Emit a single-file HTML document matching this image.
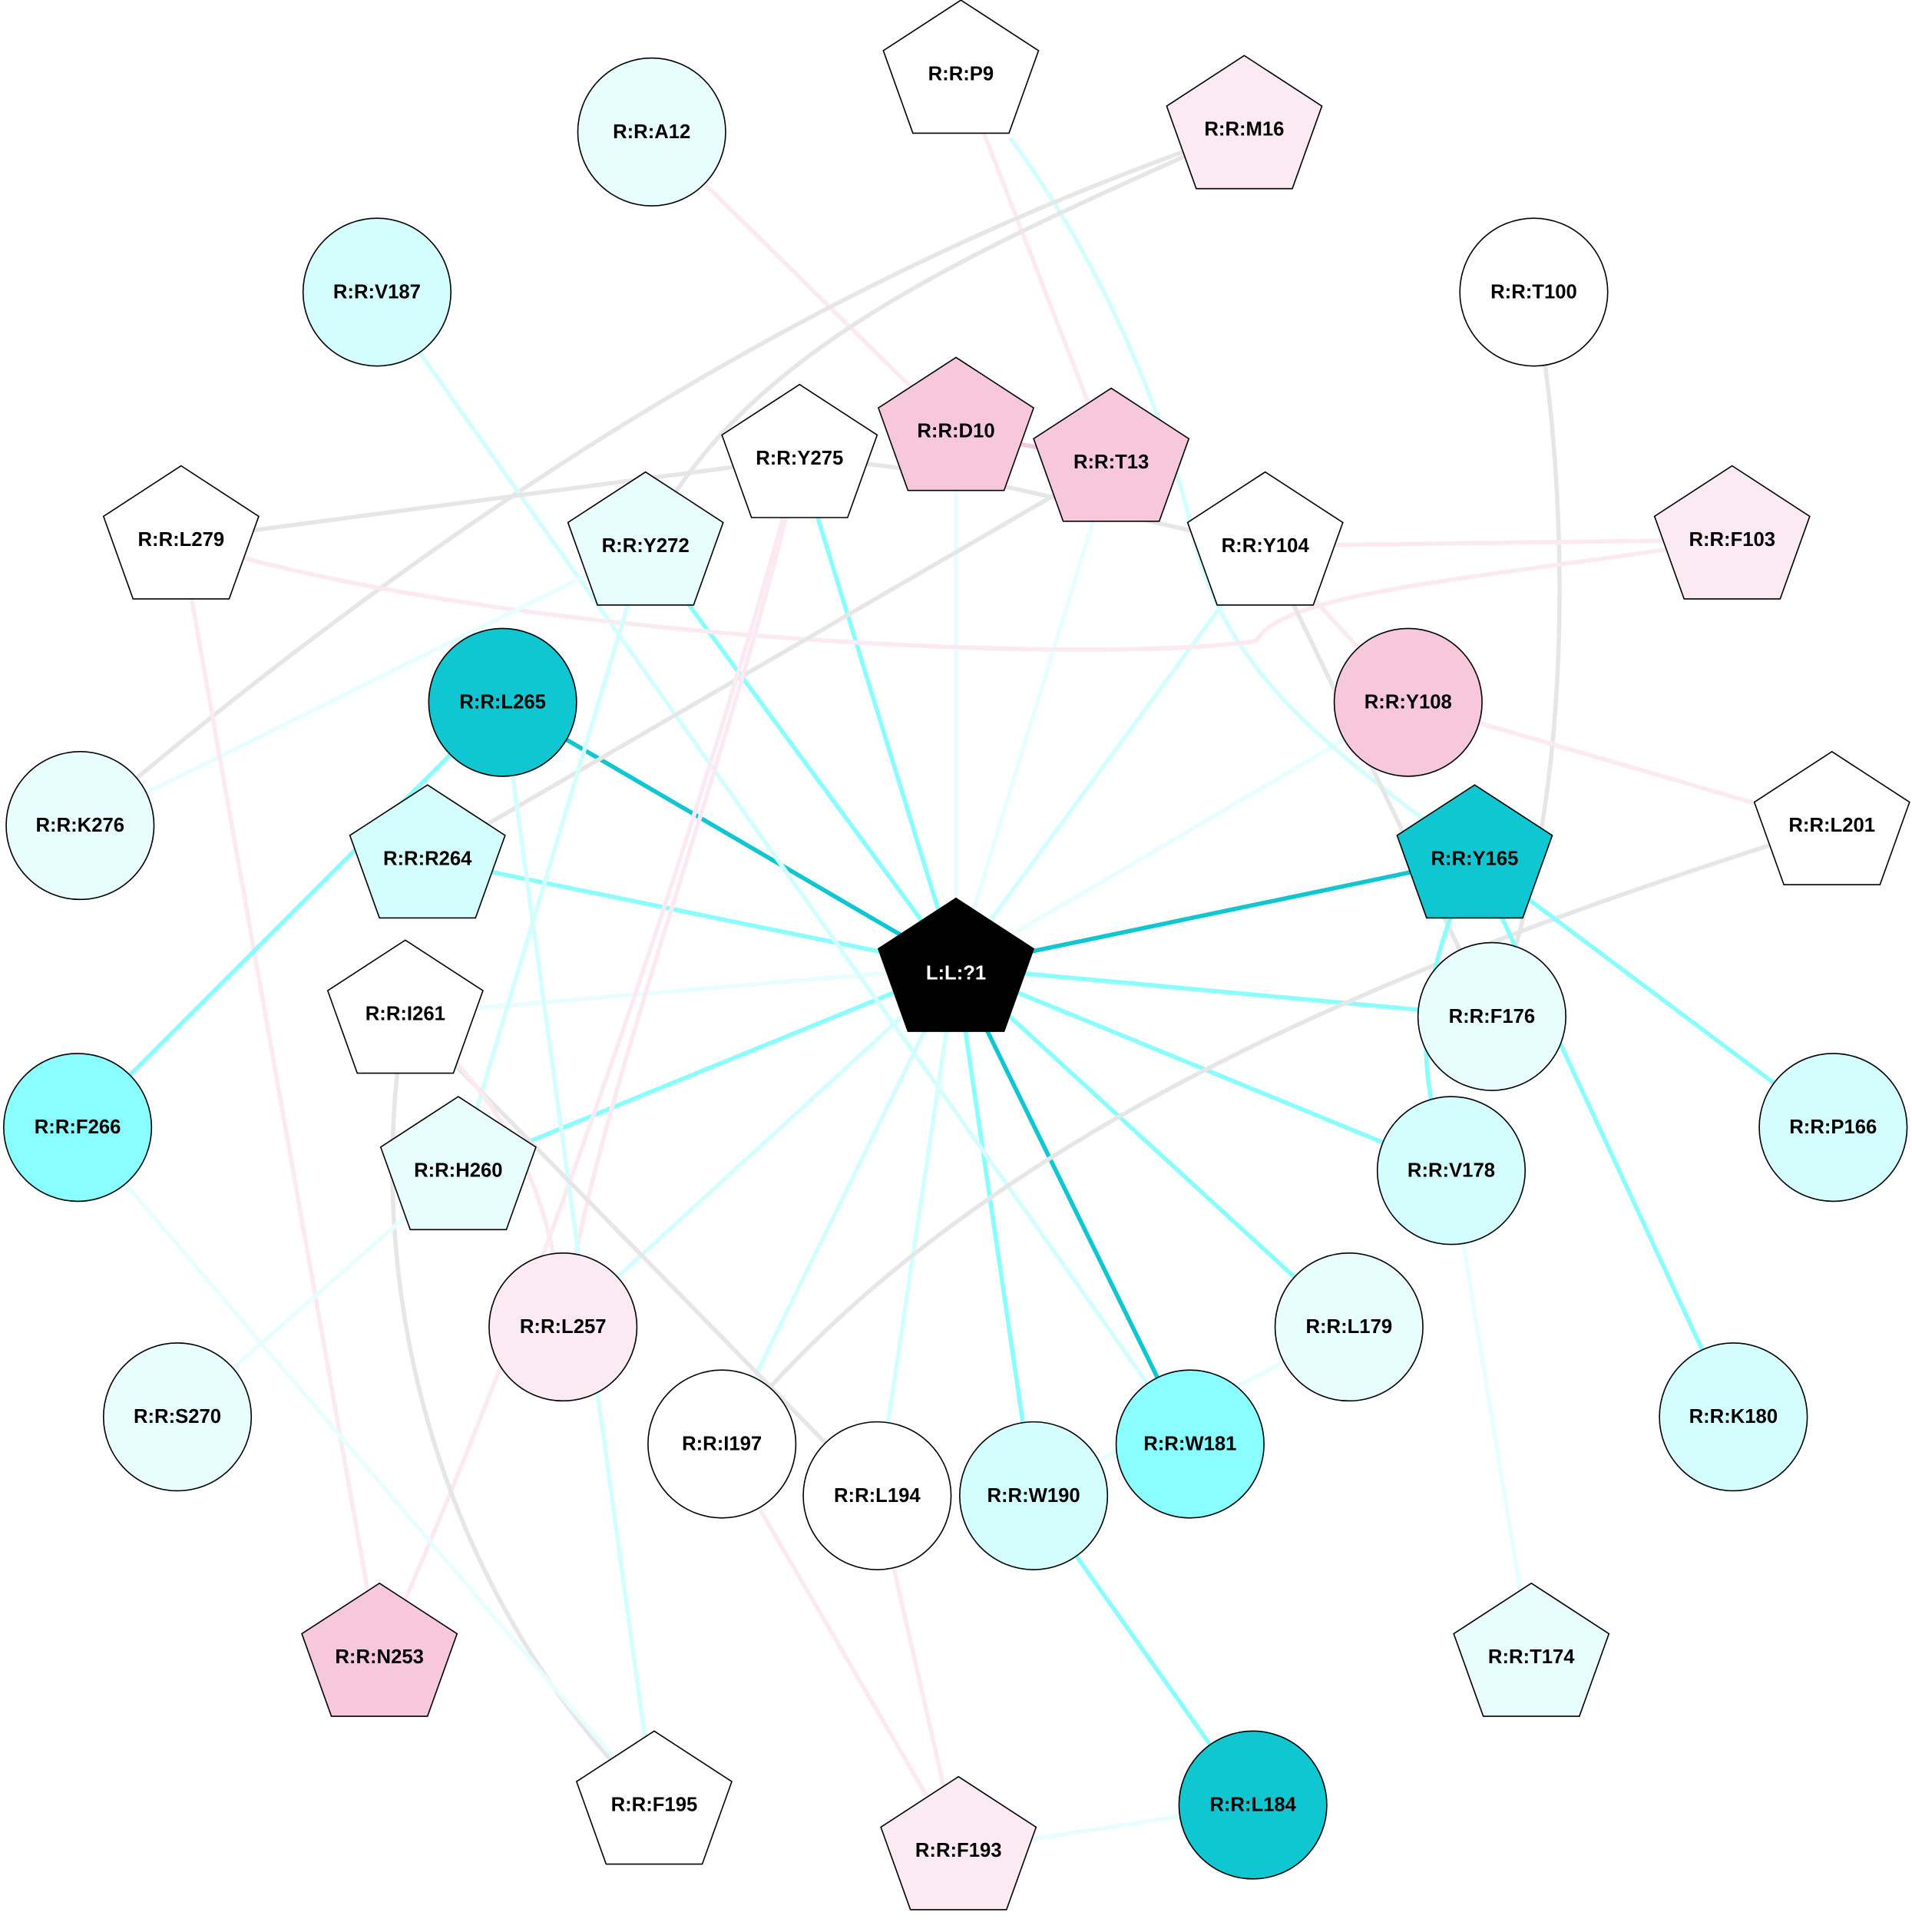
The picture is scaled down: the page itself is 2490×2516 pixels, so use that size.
<!DOCTYPE html>
<html><head><meta charset="utf-8"><style>html,body{margin:0;padding:0;background:#fff}svg{display:block}</style></head>
<body>
<svg xmlns="http://www.w3.org/2000/svg" width="2490" height="2516" viewBox="0 0 1552 1568">
<rect width="1552" height="1568" fill="#fff"/>
<defs>
<polygon id="pg" points="0,-58 63,-17 39,50 -39,50 -63,-17" stroke="#000" stroke-width="1"/>
</defs>
<g fill="none" stroke-width="3.5">
<line x1="776" y1="785" x2="408" y2="570" stroke="#10c6d0"/>
<line x1="776" y1="785" x2="347" y2="697" stroke="#8afefe"/>
<line x1="776" y1="785" x2="524" y2="443" stroke="#8afefe"/>
<line x1="776" y1="785" x2="649" y2="372" stroke="#8afefe"/>
<line x1="776" y1="785" x2="776" y2="350" stroke="#e8fefe"/>
<line x1="776" y1="785" x2="902" y2="375" stroke="#e8fefe"/>
<line x1="776" y1="785" x2="1027" y2="443" stroke="#d4fefe"/>
<line x1="776" y1="785" x2="1143" y2="570" stroke="#e8fefe"/>
<line x1="776" y1="785" x2="1197" y2="697" stroke="#10c6d0"/>
<line x1="776" y1="785" x2="1211" y2="825" stroke="#8afefe"/>
<line x1="776" y1="785" x2="1178" y2="950" stroke="#8afefe"/>
<line x1="776" y1="785" x2="1095" y2="1077" stroke="#8afefe"/>
<line x1="776" y1="785" x2="966" y2="1172" stroke="#10c6d0"/>
<line x1="776" y1="785" x2="839" y2="1214" stroke="#8afefe"/>
<line x1="776" y1="785" x2="712" y2="1214" stroke="#d4fefe"/>
<line x1="776" y1="785" x2="586" y2="1172" stroke="#d4fefe"/>
<line x1="776" y1="785" x2="457" y2="1077" stroke="#d4fefe"/>
<line x1="776" y1="785" x2="372" y2="950" stroke="#8afefe"/>
<line x1="776" y1="785" x2="329" y2="823" stroke="#e8fefe"/>
<line x1="529" y1="107" x2="776" y2="350" stroke="#fbeaf1"/>
<line x1="780" y1="60" x2="902" y2="375" stroke="#fbeaf1"/>
<line x1="776" y1="350" x2="902" y2="375" stroke="#f7c8dc"/>
<path d="M820,112 C900,220 950,350 970,440 C1000,560 1100,620 1197,697" stroke="#d4fefe"/>
<path d="M1010,105 C800,180 500,300 65,670" stroke="#e6e6e6"/>
<path d="M1010,105 C800,200 600,280 524,443" stroke="#e6e6e6"/>
<line x1="306" y1="237" x2="966" y2="1172" stroke="#d4fefe"/>
<path d="M1245,237 C1275,400 1280,650 1211,825" stroke="#e6e6e6"/>
<line x1="147" y1="438" x2="649" y2="372" stroke="#e6e6e6"/>
<path d="M649,372 C800,380 900,420 1027,443" stroke="#e6e6e6"/>
<path d="M147,438 C400,520 900,540 1020,520 C1040,480 1200,470 1406,438" stroke="#fbeaf1"/>
<line x1="1027" y1="443" x2="1406" y2="438" stroke="#fbeaf1"/>
<line x1="1027" y1="443" x2="1143" y2="570" stroke="#fbeaf1"/>
<line x1="1040" y1="470" x2="1211" y2="825" stroke="#e6e6e6"/>
<line x1="1143" y1="570" x2="1487" y2="670" stroke="#fbeaf1"/>
<path d="M1487,670 C1200,760 800,900 586,1172" stroke="#e6e6e6"/>
<line x1="902" y1="375" x2="347" y2="697" stroke="#e6e6e6"/>
<line x1="524" y1="443" x2="65" y2="670" stroke="#e8fefe"/>
<line x1="524" y1="443" x2="372" y2="950" stroke="#d4fefe"/>
<path d="M649,372 C560,700 420,1100 308,1345" stroke="#fbeaf1"/>
<path d="M649,372 C600,600 480,900 457,1077" stroke="#fbeaf1"/>
<line x1="147" y1="438" x2="308" y2="1345" stroke="#fbeaf1"/>
<line x1="408" y1="570" x2="63" y2="915" stroke="#8afefe"/>
<line x1="408" y1="570" x2="531" y2="1465" stroke="#d4fefe"/>
<path d="M329,823 C290,1050 360,1300 531,1465" stroke="#e6e6e6"/>
<line x1="329" y1="823" x2="712" y2="1214" stroke="#e6e6e6"/>
<path d="M329,823 C420,900 450,980 457,1077" stroke="#fbeaf1"/>
<line x1="63" y1="915" x2="531" y2="1465" stroke="#e8fefe"/>
<line x1="372" y1="950" x2="144" y2="1150" stroke="#e8fefe"/>
<path d="M1197,697 C1160,780 1140,850 1178,950" stroke="#8afefe"/>
<line x1="1197" y1="697" x2="1488" y2="915" stroke="#8afefe"/>
<line x1="1197" y1="697" x2="1407" y2="1150" stroke="#8afefe"/>
<line x1="1178" y1="950" x2="1243" y2="1345" stroke="#e8fefe"/>
<line x1="1095" y1="1077" x2="839" y2="1214" stroke="#e8fefe"/>
<line x1="839" y1="1214" x2="1017" y2="1465" stroke="#8afefe"/>
<line x1="1017" y1="1465" x2="778" y2="1502" stroke="#e8fefe"/>
<line x1="586" y1="1172" x2="778" y2="1502" stroke="#fbeaf1"/>
<line x1="712" y1="1214" x2="778" y2="1502" stroke="#fbeaf1"/>
</g>
<g stroke="#000" stroke-width="1">
<use href="#pg" x="780" y="58" fill="#fff"/>
<circle cx="529" cy="107" r="60" fill="#e8fefe"/>
<use href="#pg" x="1010" y="103" fill="#fbeaf1"/>
<circle cx="306" cy="237" r="60" fill="#d4fefe"/>
<circle cx="1245" cy="237" r="60" fill="#fff"/>
<use href="#pg" x="776" y="348" fill="#f7c8dc"/>
<use href="#pg" x="902" y="373" fill="#f7c8dc"/>
<use href="#pg" x="649" y="370" fill="#fff"/>
<use href="#pg" x="147" y="436" fill="#fff"/>
<use href="#pg" x="524" y="441" fill="#e8fefe"/>
<use href="#pg" x="1027" y="441" fill="#fff"/>
<use href="#pg" x="1406" y="436" fill="#fbeaf1"/>
<circle cx="408" cy="570" r="60" fill="#10c6d0"/>
<circle cx="1143" cy="570" r="60" fill="#f7c8dc"/>
<circle cx="65" cy="670" r="60" fill="#e8fefe"/>
<use href="#pg" x="347" y="695" fill="#d4fefe"/>
<use href="#pg" x="1487" y="668" fill="#fff"/>
<use href="#pg" x="1197" y="695" fill="#10c6d0"/>
<use href="#pg" x="776" y="787" fill="#000"/>
<use href="#pg" x="329" y="821" fill="#fff"/>
<circle cx="1211" cy="825" r="60" fill="#e8fefe"/>
<circle cx="63" cy="915" r="60" fill="#8afefe"/>
<circle cx="1488" cy="915" r="60" fill="#d4fefe"/>
<use href="#pg" x="372" y="948" fill="#e8fefe"/>
<circle cx="1178" cy="950" r="60" fill="#d4fefe"/>
<circle cx="457" cy="1077" r="60" fill="#fbeaf1"/>
<circle cx="1095" cy="1077" r="60" fill="#e8fefe"/>
<circle cx="144" cy="1150" r="60" fill="#e8fefe"/>
<circle cx="586" cy="1172" r="60" fill="#fff"/>
<circle cx="966" cy="1172" r="60" fill="#8afefe"/>
<circle cx="1407" cy="1150" r="60" fill="#d4fefe"/>
<circle cx="712" cy="1214" r="60" fill="#fff"/>
<circle cx="839" cy="1214" r="60" fill="#d4fefe"/>
<use href="#pg" x="308" y="1343" fill="#f7c8dc"/>
<use href="#pg" x="1243" y="1343" fill="#e8fefe"/>
<circle cx="1017" cy="1465" r="60" fill="#10c6d0"/>
<use href="#pg" x="531" y="1463" fill="#fff"/>
<use href="#pg" x="778" y="1500" fill="#fbeaf1"/>
</g>
<g font-family="Liberation Sans, Arial, sans-serif" font-weight="bold" font-size="16" text-anchor="middle" fill="#000">
<text x="780" y="65">R:R:P9</text>
<text x="529" y="112">R:R:A12</text>
<text x="1010" y="110">R:R:M16</text>
<text x="306" y="242">R:R:V187</text>
<text x="1245" y="242">R:R:T100</text>
<text x="776" y="355">R:R:D10</text>
<text x="902" y="380">R:R:T13</text>
<text x="649" y="377">R:R:Y275</text>
<text x="147" y="443">R:R:L279</text>
<text x="524" y="448">R:R:Y272</text>
<text x="1027" y="448">R:R:Y104</text>
<text x="1406" y="443">R:R:F103</text>
<text x="408" y="575">R:R:L265</text>
<text x="1143" y="575">R:R:Y108</text>
<text x="65" y="675">R:R:K276</text>
<text x="347" y="702">R:R:R264</text>
<text x="1487" y="675">R:R:L201</text>
<text x="1197" y="702">R:R:Y165</text>
<text x="776" y="795" fill="#fff">L:L:?1</text>
<text x="329" y="828">R:R:I261</text>
<text x="1211" y="830">R:R:F176</text>
<text x="63" y="920">R:R:F266</text>
<text x="1488" y="920">R:R:P166</text>
<text x="372" y="955">R:R:H260</text>
<text x="1178" y="955">R:R:V178</text>
<text x="457" y="1082">R:R:L257</text>
<text x="1095" y="1082">R:R:L179</text>
<text x="144" y="1155">R:R:S270</text>
<text x="586" y="1177">R:R:I197</text>
<text x="966" y="1177">R:R:W181</text>
<text x="1407" y="1155">R:R:K180</text>
<text x="712" y="1219">R:R:L194</text>
<text x="839" y="1219">R:R:W190</text>
<text x="308" y="1350">R:R:N253</text>
<text x="1243" y="1350">R:R:T174</text>
<text x="1017" y="1470">R:R:L184</text>
<text x="531" y="1470">R:R:F195</text>
<text x="778" y="1507">R:R:F193</text>
</g>
</svg>
</body></html>
